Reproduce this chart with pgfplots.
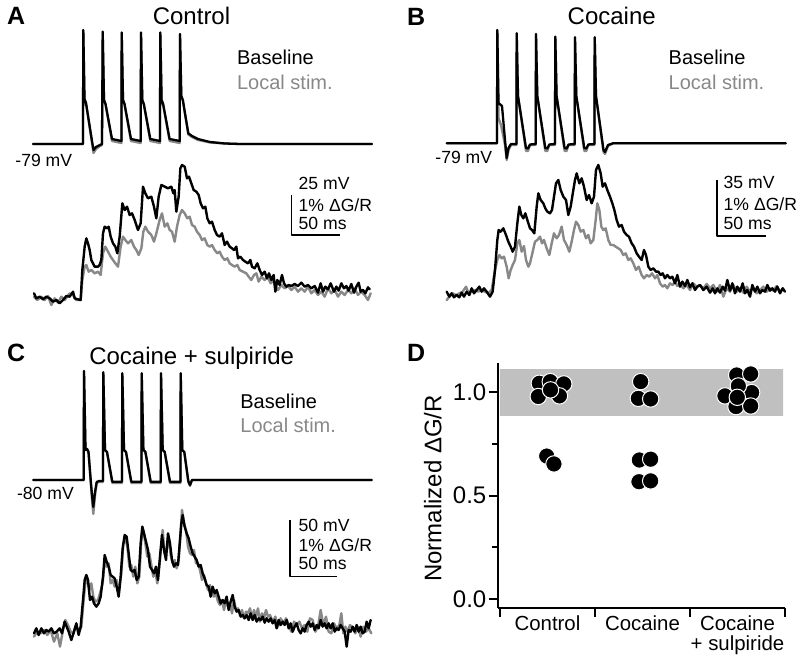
\documentclass[border=0pt]{standalone}
\usepackage{pgfplots}
\pgfplotsset{compat=1.18}
\usepackage{fontspec}
\setmainfont{Liberation Sans}
\definecolor{tgray}{RGB}{136,136,136}
\definecolor{bandgray}{RGB}{192,192,192}
\newcommand\fsmall{\fontsize{8.8}{10.5}\selectfont}
\newcommand\fleg{\fontsize{10}{12}\selectfont}
\newcommand\ftitle{\fontsize{12}{14}\selectfont}
\newcommand\fletter{\fontsize{12.5}{15}\selectfont\bfseries}
\newcommand\fcat{\fontsize{10.2}{10}\selectfont}
\begin{document}
\begin{tikzpicture}
\begin{axis}[at={(0,0)}, anchor=south west, scale only axis, width=400pt, height=329pt,
  xmin=0, xmax=800, ymin=0, ymax=658, y dir=reverse, hide axis, clip=false,
  every axis plot/.append style={line join=round, line cap=round}]
\path (axis cs:0,0) rectangle (axis cs:800,658);
% ---------------- Panel A ----------------
\node[anchor=base west, inner sep=0pt, font=\fletter] at (axis cs:6.7,25) {A};
\node[anchor=base, inner sep=0pt, font=\ftitle] at (axis cs:191.5,24.3) {Control};
\node[anchor=base west, inner sep=0pt, font=\fleg] at (axis cs:236.7,65) {Baseline};
\node[anchor=base west, inner sep=0pt, font=\fleg, text=tgray] at (axis cs:236.7,89.3) {Local stim.};
\node[anchor=base west, inner sep=0pt, font=\fsmall] at (axis cs:15,166.7) {-79 mV};
\node[anchor=base west, inner sep=0pt, font=\fsmall] at (axis cs:298.3,189.3) {25 mV};
\node[anchor=base west, inner sep=0pt, font=\fsmall] at (axis cs:298.3,211.5) {1\% ΔG/R};
\node[anchor=base west, inner sep=0pt, font=\fsmall] at (axis cs:298.3,230) {50 ms};
\addplot[black, line width=0.75pt, line cap=butt] coordinates {(291.7,195) (291.7,235) (340,235)};
\addplot[tgray, line width=1.15pt] coordinates {(33,144) (83,144) (83.3,30) (84.5,99) (86,103) (92,143) (93.5,153) (96,149) (100,146) (102,145) (102.7,31.7) (104,100) (105.5,104) (112,141) (121.4,143) (121.7,32.5) (123,100) (124.5,104) (131,141) (140.7,143) (141,32.5) (142.3,100) (143.8,104) (150.3,141) (160,143) (160.3,32.5) (161.6,100) (163.1,104) (169.6,141) (179.7,143) (180,34) (181.3,96) (182.8,100) (188.3,134.5) (192,137) (198,140) (210,142.5) (225,143.5) (240,144) (372,144)};
\addplot[black, line width=1.15pt] coordinates {(33,144) (83,144) (83.3,30) (84.5,99) (86,103) (92,141) (93.5,150) (96,147) (100,145) (102,144) (102.7,31.7) (104,100) (105.5,104) (112,139) (121.4,141) (121.7,32.5) (123,100) (124.5,104) (131,139) (140.7,141) (141,32.5) (142.3,100) (143.8,104) (150.3,139) (160,141) (160.3,32.5) (161.6,100) (163.1,104) (169.6,139) (179.7,141) (180,34) (181.3,96) (182.8,100) (188.3,133.3) (192,136) (198,139) (210,142) (225,143.5) (240,144) (372,144)};
\addplot[tgray, line width=1.2pt] table[row sep=\\, x expr=28+\thisrow{x}/3, y expr=160+\thisrow{y}/3]{x y\\
18 410\\ 28 420\\ 40 410\\ 50 420\\ 60 408\\ 70 435\\ 80 415\\ 90 428\\ 100 410\\ 110 420\\ 125 400\\ 135 405\\ 145 420\\ 158 420\\ 163 360\\ 170 320\\ 175 315\\ 182 335\\ 190 330\\ 200 340\\ 210 335\\ 218 345\\ 225 280\\ 232 260\\ 240 275\\ 248 290\\ 255 300\\ 262 310\\ 270 320\\ 278 260\\ 285 230\\ 292 240\\ 300 250\\ 310 240\\ 318 260\\ 325 270\\ 332 285\\ 340 265\\ 346 215\\ 352 200\\ 360 215\\ 370 225\\ 378 245\\ 385 220\\ 395 180\\ 402 160\\ 410 200\\ 418 190\\ 425 210\\ 432 215\\ 440 245\\ 447 200\\ 455 165\\ 462 150\\ 470 160\\ 478 175\\ 485 170\\ 492 195\\ 500 200\\ 507 215\\ 515 225\\ 522 240\\ 530 235\\ 538 255\\ 545 260\\ 552 255\\ 560 270\\ 568 280\\ 575 275\\ 582 290\\ 590 300\\ 598 295\\ 605 310\\ 612 315\\ 620 320\\ 628 315\\ 635 330\\ 645 335\\ 655 340\\ 662 350\\ 670 360\\ 678 345\\ 685 340\\ 692 365\\ 700 350\\ 710 360\\ 718 350\\ 728 370\\ 735 360\\ 742 380\\ 750 390\\ 760 375\\ 770 385\\ 780 378\\ 790 390\\ 800 380\\ 810 395\\ 820 385\\ 830 395\\ 840 380\\ 850 400\\ 860 390\\ 870 405\\ 880 395\\ 890 410\\ 900 385\\ 910 400\\ 920 390\\ 930 410\\ 940 395\\ 950 405\\ 960 390\\ 970 400\\ 980 385\\ 990 405\\ 1000 395\\ 1010 405\\ 1020 420\\ 1028 400\\
};
\addplot[black, line width=1.2pt] table[row sep=\\, x expr=28+\thisrow{x}/3, y expr=160+\thisrow{y}/3]{x y\\
18 400\\ 25 415\\ 35 410\\ 45 418\\ 55 410\\ 65 415\\ 75 425\\ 85 420\\ 95 430\\ 105 420\\ 115 408\\ 125 410\\ 135 395\\ 140 415\\ 150 418\\ 158 420\\ 163 330\\ 170 260\\ 175 235\\ 180 250\\ 185 270\\ 190 300\\ 200 320\\ 210 320\\ 215 315\\ 220 300\\ 225 220\\ 230 200\\ 238 205\\ 242 200\\ 248 230\\ 255 250\\ 262 260\\ 268 280\\ 275 230\\ 283 130\\ 290 150\\ 297 140\\ 305 165\\ 312 160\\ 320 180\\ 330 210\\ 338 190\\ 345 80\\ 352 100\\ 360 115\\ 370 110\\ 378 140\\ 385 175\\ 392 110\\ 400 75\\ 410 80\\ 420 85\\ 430 80\\ 436 100\\ 440 90\\ 445 155\\ 452 110\\ 457 25\\ 462 15\\ 470 20\\ 477 55\\ 483 50\\ 490 70\\ 497 90\\ 505 95\\ 512 105\\ 518 130\\ 525 145\\ 532 140\\ 538 175\\ 545 190\\ 552 185\\ 560 210\\ 567 225\\ 575 230\\ 582 220\\ 590 255\\ 597 245\\ 605 260\\ 612 265\\ 618 270\\ 625 260\\ 630 295\\ 637 290\\ 645 300\\ 652 305\\ 660 310\\ 667 300\\ 672 320\\ 680 325\\ 688 310\\ 695 330\\ 702 345\\ 710 335\\ 717 355\\ 723 340\\ 730 360\\ 737 345\\ 742 395\\ 748 360\\ 755 375\\ 762 345\\ 768 370\\ 775 380\\ 782 375\\ 790 378\\ 800 372\\ 810 378\\ 820 368\\ 830 380\\ 840 375\\ 850 385\\ 860 378\\ 870 398\\ 878 370\\ 885 395\\ 892 380\\ 900 388\\ 908 370\\ 918 395\\ 925 380\\ 932 392\\ 940 370\\ 948 385\\ 955 378\\ 962 392\\ 970 372\\ 978 398\\ 985 380\\ 992 368\\ 998 395\\ 1005 390\\ 1012 400\\ 1020 382\\ 1025 388\\
};
% ---------------- Panel B ----------------
\node[anchor=base west, inner sep=0pt, font=\fletter] at (axis cs:406.7,26) {B};
\node[anchor=base, inner sep=0pt, font=\ftitle] at (axis cs:611.7,25) {Cocaine};
\node[anchor=base west, inner sep=0pt, font=\fleg] at (axis cs:668.3,65) {Baseline};
\node[anchor=base west, inner sep=0pt, font=\fleg, text=tgray] at (axis cs:668.3,89.7) {Local stim.};
\node[anchor=base west, inner sep=0pt, font=\fsmall] at (axis cs:435,163.3) {-79 mV};
\node[anchor=base west, inner sep=0pt, font=\fsmall] at (axis cs:723.3,188.3) {35 mV};
\node[anchor=base west, inner sep=0pt, font=\fsmall] at (axis cs:723.3,211) {1\% ΔG/R};
\node[anchor=base west, inner sep=0pt, font=\fsmall] at (axis cs:723.3,229.3) {50 ms};
\addplot[black, line width=0.75pt, line cap=butt] coordinates {(717,180) (717,236) (766,236)};
\addplot[tgray, line width=1.15pt] coordinates {(446.7,143.3) (497,143.3) (497.3,30) (498.5,118) (501,125) (505,145) (506.7,160) (508.5,150) (511,145) (516.4,145) (516.7,33.3) (518,96) (526,151) (528,151) (530,145) (535.7,145) (536,34) (537.3,96) (545.3,151) (547.3,151) (549.3,145) (555,145) (555.3,36.7) (556.6,96) (564.6,151) (566.6,151) (568.6,145) (574.7,145) (575,37.3) (576.3,96) (584.3,151) (586.3,151) (588.3,145) (594.4,145) (594.7,37.3) (596,96) (603.5,152) (605,154) (608,146) (613,143.3) (785.7,143.3)};
\addplot[black, line width=1.15pt] coordinates {(446.7,143.3) (497,143.3) (497.3,30) (498.5,103) (502,106) (505,140) (506.7,158) (508.5,148) (511,144) (516.4,144) (516.7,33.3) (518,96) (526,148) (528,148.5) (530,144.5) (535.7,144) (536,34) (537.3,96) (545.3,148) (547.3,148.5) (549.3,144.5) (555,144) (555.3,36.7) (556.6,96) (564.6,148) (566.6,148.5) (568.6,144.5) (574.7,144) (575,37.3) (576.3,96) (584.3,148) (586.3,148.5) (588.3,144.5) (594.4,144) (594.7,37.3) (596,96) (603.5,150) (605,152) (608,145) (613,143.3) (785.7,143.3)};
\addplot[tgray, line width=1.2pt] table[row sep=\\, x expr=440+\thisrow{x}/3, y expr=160+\thisrow{y}/3]{x y\\
20 420\\ 28 410\\ 38 400\\ 48 405\\ 58 400\\ 68 395\\ 78 380\\ 86 400\\ 95 395\\ 105 390\\ 115 395\\ 125 390\\ 135 395\\ 145 400\\ 155 390\\ 165 330\\ 172 300\\ 178 285\\ 185 295\\ 192 290\\ 200 320\\ 206 355\\ 212 330\\ 218 315\\ 225 300\\ 232 250\\ 238 240\\ 245 275\\ 252 258\\ 258 300\\ 265 320\\ 270 310\\ 277 280\\ 285 245\\ 292 240\\ 300 230\\ 306 250\\ 312 240\\ 320 265\\ 328 285\\ 335 250\\ 342 220\\ 350 235\\ 357 225\\ 365 200\\ 372 240\\ 380 255\\ 388 275\\ 395 245\\ 402 210\\ 408 185\\ 415 195\\ 422 215\\ 430 210\\ 438 235\\ 445 225\\ 452 250\\ 460 240\\ 467 180\\ 472 130\\ 478 150\\ 484 200\\ 490 210\\ 497 205\\ 505 240\\ 512 255\\ 520 255\\ 527 260\\ 535 265\\ 542 270\\ 550 285\\ 557 280\\ 565 300\\ 572 295\\ 580 310\\ 588 330\\ 596 320\\ 605 345\\ 612 355\\ 620 345\\ 628 350\\ 636 340\\ 645 355\\ 652 345\\ 660 370\\ 668 380\\ 675 375\\ 682 385\\ 690 370\\ 698 375\\ 705 365\\ 712 378\\ 720 370\\ 730 385\\ 740 375\\ 750 390\\ 760 370\\ 770 380\\ 780 375\\ 790 385\\ 800 372\\ 810 385\\ 820 375\\ 830 395\\ 840 375\\ 850 410\\ 860 385\\ 870 395\\ 880 375\\ 890 395\\ 900 385\\ 910 398\\ 920 380\\ 930 395\\ 940 385\\ 950 400\\ 960 390\\ 970 380\\ 980 395\\ 990 385\\ 1000 392\\ 1010 378\\ 1020 395\\ 1030 385\\
};
\addplot[black, line width=1.2pt] table[row sep=\\, x expr=440+\thisrow{x}/3, y expr=160+\thisrow{y}/3]{x y\\
20 395\\ 28 410\\ 35 400\\ 42 412\\ 50 405\\ 58 412\\ 65 398\\ 72 410\\ 80 395\\ 88 405\\ 95 385\\ 102 400\\ 110 390\\ 118 380\\ 125 395\\ 132 385\\ 140 395\\ 150 410\\ 158 395\\ 165 330\\ 172 240\\ 176 210\\ 182 215\\ 190 205\\ 198 225\\ 205 245\\ 212 260\\ 218 275\\ 225 260\\ 232 190\\ 238 140\\ 244 165\\ 250 175\\ 256 160\\ 262 180\\ 270 205\\ 276 210\\ 283 220\\ 290 140\\ 295 100\\ 302 120\\ 310 130\\ 316 145\\ 322 155\\ 330 160\\ 336 150\\ 342 110\\ 348 70\\ 355 60\\ 362 90\\ 370 110\\ 378 120\\ 385 165\\ 392 140\\ 400 90\\ 405 60\\ 410 40\\ 418 70\\ 425 55\\ 432 80\\ 440 120\\ 447 105\\ 455 130\\ 462 110\\ 468 30\\ 475 15\\ 482 40\\ 488 80\\ 495 70\\ 502 90\\ 510 110\\ 517 130\\ 523 150\\ 530 180\\ 537 200\\ 545 195\\ 552 215\\ 560 225\\ 567 230\\ 575 250\\ 582 260\\ 590 280\\ 597 290\\ 605 300\\ 612 270\\ 618 285\\ 625 320\\ 632 330\\ 640 325\\ 648 335\\ 655 335\\ 662 345\\ 668 340\\ 675 355\\ 682 345\\ 690 355\\ 697 350\\ 705 370\\ 712 345\\ 720 380\\ 727 365\\ 735 378\\ 742 360\\ 750 382\\ 757 370\\ 765 390\\ 772 380\\ 780 375\\ 790 390\\ 800 380\\ 810 398\\ 818 385\\ 825 400\\ 832 385\\ 840 398\\ 848 380\\ 855 392\\ 862 360\\ 870 392\\ 877 370\\ 885 400\\ 892 380\\ 900 395\\ 908 370\\ 915 400\\ 922 390\\ 930 410\\ 937 375\\ 945 395\\ 952 380\\ 960 400\\ 967 390\\ 975 395\\ 982 375\\ 990 392\\ 997 385\\ 1005 395\\ 1012 380\\ 1020 400\\ 1028 385\\ 1035 395\\
};
% ---------------- Panel C ----------------
\node[anchor=base west, inner sep=0pt, font=\fletter] at (axis cs:6.7,361.7) {C};
\node[anchor=base, inner sep=0pt, font=\ftitle] at (axis cs:191.7,365) {Cocaine + sulpiride};
\node[anchor=base west, inner sep=0pt, font=\fleg] at (axis cs:240,408.3) {Baseline};
\node[anchor=base west, inner sep=0pt, font=\fleg, text=tgray] at (axis cs:240,432.7) {Local stim.};
\node[anchor=base west, inner sep=0pt, font=\fsmall] at (axis cs:16.7,499.3) {-80 mV};
\node[anchor=base west, inner sep=0pt, font=\fsmall] at (axis cs:298.3,531.3) {50 mV};
\node[anchor=base west, inner sep=0pt, font=\fsmall] at (axis cs:298.3,551.5) {1\% ΔG/R};
\node[anchor=base west, inner sep=0pt, font=\fsmall] at (axis cs:298.3,569.3) {50 ms};
\addplot[black, line width=0.75pt, line cap=butt] coordinates {(290,520) (290,576.7) (337.3,576.7)};
\addplot[tgray, line width=1.15pt] coordinates {(33.3,480) (83.7,480) (84,371) (85.5,450) (87,449) (88.5,452) (90.7,482) (92,500) (93.3,514) (95,496) (96.7,483) (99,482) (103,482) (103.3,372.3) (105,450) (107,452) (112.3,483) (122,483) (122.3,373.3) (124,450) (126,452) (131.3,483) (141.4,483) (141.7,373.3) (143.4,450) (145.4,452) (150.7,483) (160.7,483) (161,373.3) (162.7,450) (164.7,452) (170,483) (180.4,483) (180.7,373.3) (182.3,450) (184.3,452) (188.3,482) (190,486) (192,480) (371.7,480)};
\addplot[black, line width=1.15pt] coordinates {(33.3,480) (83.7,480) (84,371) (85.5,450) (87,449) (88.5,452) (90.7,480) (92,495) (93.3,507) (95,492) (96.7,482) (99,481) (103,481) (103.3,372.3) (105,450) (107,452) (112.3,481.7) (122,481.7) (122.3,373.3) (124,450) (126,452) (131.3,481.7) (141.4,481.7) (141.7,373.3) (143.4,450) (145.4,452) (150.7,481.7) (160.7,481.7) (161,373.3) (162.7,450) (164.7,452) (170,481.7) (180.4,481.7) (180.7,373.3) (182.3,450) (184.3,452) (188.3,481) (190,485) (192,480) (371.7,480)};
\addplot[tgray, line width=1.2pt] table[row sep=\\, x expr=28+\thisrow{x}/3, y expr=500+\thisrow{y}/3]{x y\\
18 410\\ 28 395\\ 38 400\\ 48 390\\ 58 405\\ 68 390\\ 78 425\\ 88 400\\ 96 440\\ 105 390\\ 112 360\\ 120 375\\ 128 395\\ 136 400\\ 144 375\\ 152 395\\ 160 380\\ 166 310\\ 172 250\\ 178 240\\ 184 270\\ 190 250\\ 196 290\\ 202 305\\ 210 300\\ 216 280\\ 224 250\\ 230 185\\ 236 200\\ 242 190\\ 248 250\\ 254 240\\ 260 260\\ 266 240\\ 272 280\\ 280 220\\ 286 130\\ 292 115\\ 298 140\\ 304 200\\ 310 195\\ 316 230\\ 322 200\\ 328 250\\ 334 230\\ 340 120\\ 346 90\\ 352 130\\ 358 170\\ 364 160\\ 370 195\\ 376 230\\ 382 215\\ 388 250\\ 396 180\\ 404 90\\ 410 160\\ 416 150\\ 422 110\\ 428 165\\ 434 190\\ 440 180\\ 446 205\\ 452 180\\ 458 95\\ 462 30\\ 468 70\\ 474 90\\ 480 140\\ 486 160\\ 492 165\\ 498 150\\ 504 190\\ 510 190\\ 516 210\\ 522 240\\ 528 225\\ 534 250\\ 540 270\\ 546 255\\ 552 280\\ 558 290\\ 564 280\\ 570 305\\ 576 315\\ 582 300\\ 588 330\\ 594 300\\ 600 320\\ 606 310\\ 612 340\\ 618 300\\ 624 330\\ 630 325\\ 636 345\\ 642 330\\ 648 355\\ 654 335\\ 660 340\\ 666 325\\ 672 355\\ 678 330\\ 684 350\\ 690 325\\ 696 365\\ 702 340\\ 708 355\\ 714 330\\ 720 350\\ 726 345\\ 734 365\\ 742 350\\ 750 380\\ 758 355\\ 766 370\\ 774 355\\ 782 375\\ 790 395\\ 798 365\\ 806 375\\ 814 365\\ 822 385\\ 830 375\\ 838 395\\ 846 355\\ 854 360\\ 862 395\\ 870 380\\ 878 330\\ 886 375\\ 894 350\\ 902 395\\ 910 400\\ 918 370\\ 926 385\\ 934 375\\ 940 340\\ 946 400\\ 952 380\\ 958 395\\ 966 375\\ 974 385\\ 982 400\\ 990 380\\ 998 410\\ 1006 380\\ 1014 395\\ 1022 385\\ 1030 400\\
};
\addplot[black, line width=1.2pt] table[row sep=\\, x expr=28+\thisrow{x}/3, y expr=500+\thisrow{y}/3]{x y\\
18 400\\ 25 385\\ 32 405\\ 40 385\\ 48 400\\ 55 390\\ 62 395\\ 70 385\\ 78 400\\ 86 395\\ 95 385\\ 102 400\\ 110 365\\ 116 380\\ 122 395\\ 130 420\\ 138 395\\ 145 370\\ 152 405\\ 158 380\\ 165 300\\ 170 240\\ 175 225\\ 180 240\\ 186 300\\ 192 290\\ 198 310\\ 205 320\\ 212 310\\ 218 290\\ 225 230\\ 230 165\\ 236 185\\ 242 200\\ 248 225\\ 254 230\\ 260 235\\ 266 260\\ 272 290\\ 278 230\\ 284 145\\ 290 105\\ 296 110\\ 302 160\\ 308 210\\ 314 215\\ 320 210\\ 326 240\\ 332 230\\ 338 130\\ 343 80\\ 348 100\\ 354 125\\ 360 150\\ 366 200\\ 372 210\\ 378 220\\ 384 200\\ 390 240\\ 396 170\\ 402 105\\ 408 150\\ 414 180\\ 420 100\\ 426 130\\ 432 180\\ 438 200\\ 444 190\\ 450 195\\ 456 120\\ 460 70\\ 464 45\\ 470 80\\ 476 100\\ 482 115\\ 488 140\\ 494 160\\ 500 170\\ 506 180\\ 512 200\\ 518 195\\ 524 220\\ 530 235\\ 536 255\\ 542 260\\ 548 290\\ 554 260\\ 560 280\\ 566 270\\ 572 290\\ 578 310\\ 584 300\\ 590 310\\ 596 290\\ 602 330\\ 608 305\\ 614 285\\ 620 320\\ 626 335\\ 632 330\\ 638 350\\ 644 345\\ 650 355\\ 656 345\\ 662 360\\ 668 340\\ 674 360\\ 680 345\\ 686 365\\ 692 355\\ 698 360\\ 704 350\\ 710 368\\ 716 355\\ 722 365\\ 728 355\\ 734 370\\ 740 360\\ 746 385\\ 752 360\\ 758 375\\ 764 365\\ 770 375\\ 776 360\\ 782 385\\ 788 370\\ 794 395\\ 800 380\\ 806 370\\ 812 390\\ 818 400\\ 824 385\\ 830 395\\ 836 375\\ 842 365\\ 848 380\\ 854 370\\ 860 390\\ 866 375\\ 872 385\\ 878 360\\ 884 380\\ 890 370\\ 896 385\\ 902 370\\ 908 385\\ 914 370\\ 920 395\\ 926 385\\ 932 390\\ 938 375\\ 944 385\\ 950 395\\ 956 440\\ 962 390\\ 968 395\\ 974 380\\ 980 395\\ 986 375\\ 992 395\\ 998 380\\ 1004 400\\ 1010 395\\ 1016 365\\ 1022 385\\ 1028 360\\
};
% ---------------- Panel D letter ----------------
\node[anchor=base west, inner sep=0pt, font=\fletter] at (axis cs:406.7,361.7) {D};
\end{axis}
% ---------------- Panel D axis ----------------
\begin{axis}[at={(248.85pt,25pt)}, anchor=south west, scale only axis,
  width=143.65pt, height=122.4pt,
  xmin=-0.524, xmax=2.5, ymin=-0.0435, ymax=1.14,
  axis lines*=left, axis line style={line width=1.1pt},
  tick align=outside, tick style={black, line width=1pt},
  major tick length=4.5pt, minor tick length=3pt,
  xtick={-0.5,0.5,1.5,2.5}, xticklabels={},
  ytick={0,0.5,1}, minor ytick={0.25,0.75},
  yticklabel style={font=\fontsize{12}{14}\selectfont, inner sep=1pt,
    /pgf/number format/.cd, fixed, fixed zerofill, precision=1, assume math mode=true},
  ylabel={Normalized ΔG/R},
  ylabel style={font=\fontsize{12}{14}\selectfont, at={(axis description cs:-0.194,0.488)}, anchor=south, inner sep=0pt},
  clip=false]
\addplot[fill=bandgray, draw=none] coordinates {(-0.5,0.885) (2.48,0.885) (2.48,1.111) (-0.5,1.111) (-0.5,0.885)};
\addplot[only marks, mark=*, mark size=4.1pt, mark options={fill=black, draw=white, line width=0.5pt}] coordinates {
(-0.086,1.043) (0.029,1.051) (0.172,1.040) (-0.097,0.979) (0.126,0.982) (0.032,1.011)
(-0.008,0.691) (0.068,0.653)
(0.981,1.051) (0.956,0.970) (1.086,0.967)
(0.967,0.672) (1.086,0.676) (0.963,0.567) (1.086,0.571)
(1.991,1.083) (2.139,1.088) (1.868,0.982) (2.149,0.998) (2.009,1.030) (1.984,0.930) (2.139,0.933) (1.998,0.975)
};
\node[anchor=north, inner sep=0pt, font=\fcat] at (axis cs:0,-0.0435) [yshift=-3.5pt] {Control};
\node[anchor=north, inner sep=0pt, font=\fcat] at (axis cs:1,-0.0435) [yshift=-3.5pt] {Cocaine};
\node[anchor=north, inner sep=0pt, font=\fcat, align=center] at (axis cs:2,-0.0435) [yshift=-3.5pt] {Cocaine\\+ sulpiride};
\end{axis}
\end{tikzpicture}
\end{document}
